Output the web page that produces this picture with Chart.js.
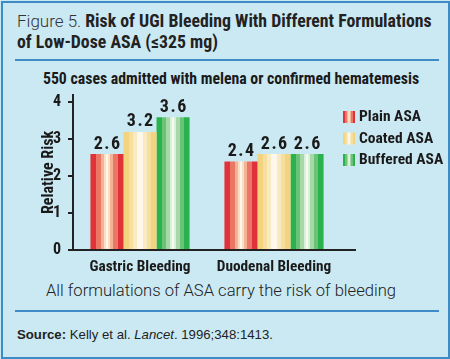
<!DOCTYPE html>
<html>
<head>
<meta charset="utf-8">
<script src="https://cdn.jsdelivr.net/npm/chart.js@4/dist/chart.umd.min.js"></script>
<style>
  html,body{margin:0;padding:0;}
  body{width:450px;height:359px;background:#cbe9f3;position:relative;overflow:hidden;
       font-family:"Roboto Condensed",sans-serif;color:#1a1a1a;}
  #frame{position:absolute;left:1px;top:1px;width:445px;height:354px;border:2px solid #3d8cc6;box-sizing:content-box;}
  .rule{position:absolute;left:15px;width:424px;height:2px;background:#3d8cc6;}
  #title{position:absolute;left:17px;top:11px;font-size:17.8px;line-height:20.5px;color:#222;white-space:nowrap;}
  #title .fig{font-family:Roboto,sans-serif;font-weight:300;font-size:17px;color:#333;}
  #title b{font-weight:bold;}
  #sub{position:absolute;left:0;width:462px;top:69px;text-align:center;font-weight:bold;font-size:15.8px;white-space:nowrap;}
  #note{position:absolute;left:0;width:442px;top:281px;text-align:center;font-family:Roboto,sans-serif;font-size:16.6px;font-weight:300;color:#222;white-space:nowrap;}
  #src{position:absolute;left:17px;top:327px;font-family:"Liberation Sans",Arial,sans-serif;font-size:13.2px;color:#222;white-space:nowrap;}
  #c{position:absolute;left:0;top:0;}
</style>
</head>
<body>
<div id="frame"></div>
<div id="title"><span class="fig">Figure 5.</span> <b>Risk of UGI Bleeding With Different Formulations<br>of Low-Dose ASA (≤325 mg)</b></div>
<div class="rule" style="top:59px"></div>
<div id="sub">550 cases admitted with melena or confirmed hematemesis</div>
<div id="note">All formulations of ASA carry the risk of bleeding</div>
<div class="rule" style="top:310px"></div>
<div id="src"><b>Source:</b> Kelly et al. <i>Lancet</i>. 1996;348:1413.</div>
<canvas id="c" width="450" height="359"></canvas>
<script>
const categories = ['Gastric Bleeding', 'Duodenal Bleeding'];
const seriesNames = ['Plain ASA', 'Coated ASA', 'Buffered ASA'];
const plainASA = [2.6, 2.4];
const coatedASA = [3.2, 2.6];
const bufferedASA = [3.6, 2.6];
const valueLabels = [['2.6', '2.4'], ['3.2', '2.6'], ['3.6', '2.6']];
const yTicks = [0, 1, 2, 3, 4];

const FONT = '"Roboto Condensed",sans-serif';

// stripe bands (fraction of width, color), mirrored around the center
const stripes = [
  [[0.17,'#e1323a'],[0.32,'#ea7765'],[0.42,'#f4b394'],[0.47,'#fcdfc2'],[0.5,'#fff7ee']],
  [[0.17,'#f2d47f'],[0.30,'#f6df9e'],[0.40,'#f9eac2'],[0.5,'#fdf8eb']],
  [[0.17,'#2ab24c'],[0.30,'#6bc37a'],[0.40,'#a5d9a7'],[0.46,'#d8efd8'],[0.5,'#f4fbf3']]
];
const solid = ['#e1323a', '#f2d47f', '#2ab24c'];

function stripeGradient(ctx, x0, x1, bands) {
  const g = ctx.createLinearGradient(x0, 0, x1, 0);
  let prev = 0;
  bands.forEach(([end, col]) => { g.addColorStop(prev, col); g.addColorStop(end, col); prev = end; });
  for (let i = bands.length - 1; i >= 0; i--) {
    const start = 1 - bands[i][0];
    const end = i > 0 ? 1 - bands[i - 1][0] : 1;
    g.addColorStop(Math.max(start, 0.5), bands[i][1]);
    g.addColorStop(end, bands[i][1]);
  }
  return g;
}

const stripePlugin = {
  id: 'stripes',
  beforeDatasetsDraw(chart) {
    const ctx = chart.ctx;
    chart.data.datasets.forEach((ds, i) => {
      chart.getDatasetMeta(i).data.forEach(el => {
        el.options.backgroundColor = stripeGradient(ctx, el.x - el.width / 2, el.x + el.width / 2, stripes[i]);
      });
    });
  },
  afterDatasetsDraw(chart) {
    const ctx = chart.ctx;
    ctx.save();
    ctx.font = 'bold 18px ' + FONT;
    ctx.fillStyle = '#1a1a1a';
    ctx.textAlign = 'center';
    ctx.textBaseline = 'bottom';
    ctx.letterSpacing = '1.5px';
    chart.data.datasets.forEach((ds, i) => {
      chart.getDatasetMeta(i).data.forEach((el, j) => {
        ctx.fillText(valueLabels[i][j], el.x + 0.75, el.y - 1);
      });
    });
    ctx.restore();
  },
  afterDraw(chart) {
    const ctx = chart.ctx;
    const {left, right} = chart.chartArea;
    const y0 = chart.scales.y.getPixelForValue(0);
    ctx.save();
    ctx.strokeStyle = '#222';
    ctx.lineWidth = 2;
    ctx.beginPath();
    ctx.moveTo(left - 1, y0);
    ctx.lineTo(right + 15, y0);
    ctx.stroke();
    // legend
    ctx.font = 'bold 15.5px ' + FONT;
    ctx.textBaseline = 'middle';
    ctx.textAlign = 'left';
    seriesNames.forEach((name, i) => {
      const x = 343, y = 111 + i * 21.5;
      ctx.fillStyle = stripeGradient(ctx, x, x + 12, stripes[i]);
      ctx.fillRect(x, y, 12, 12);
      ctx.fillStyle = '#1a1a1a';
      ctx.fillText(name, 359, y + 6.5);
    });
    ctx.restore();
  }
};

new Chart(document.getElementById('c'), {
  type: 'bar',
  data: {
    labels: categories,
    datasets: [
      { label: seriesNames[0], data: plainASA, backgroundColor: () => solid[0] },
      { label: seriesNames[1], data: coatedASA, backgroundColor: () => solid[1] },
      { label: seriesNames[2], data: bufferedASA, backgroundColor: () => solid[2] }
    ]
  },
  options: {
    responsive: false,
    animation: false,
    devicePixelRatio: 1,
    categoryPercentage: 0.74,
    barPercentage: 1,
    layout: { padding: { left: 18, top: 95, right: 109, bottom: 84 } },
    plugins: { legend: { display: false }, tooltip: { enabled: false } },
    scales: {
      x: {
        offset: true,
        grid: { display: false, drawTicks: false, tickLength: 0 },
        border: { display: false },
        ticks: { color: '#1a1a1a', padding: 8, maxRotation: 0, autoSkip: false,
                 font: { family: FONT, size: 15.3, weight: 'bold' } },
        afterFit(s) { s.height = 25; }
      },
      y: {
        min: 0, max: 4.2,
        afterBuildTicks(s) { s.ticks = yTicks.map(v => ({ value: v })); },
        ticks: { color: '#1a1a1a', padding: 7, font: { family: FONT, size: 16, weight: 'bold' } },
        grid: { drawOnChartArea: false, drawTicks: true, tickLength: 5, color: '#222', lineWidth: 2 },
        border: { display: true, color: '#222', width: 2 },
        title: { display: true, text: 'Relative Risk', color: '#1a1a1a', padding: { top: 21, bottom: 0 },
                 font: { family: FONT, size: 16, weight: 'bold' } },
        afterFit(s) { s.width = 55; }
      }
    }
  },
  plugins: [stripePlugin]
});
</script>
</body>
</html>
